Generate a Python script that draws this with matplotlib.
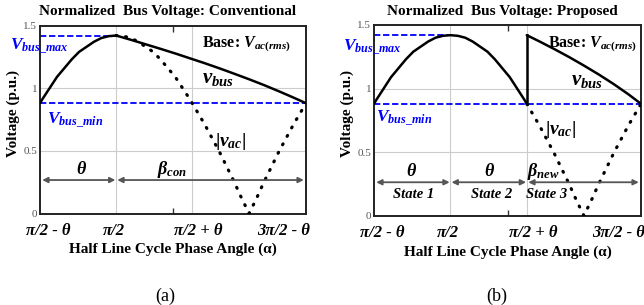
import matplotlib
matplotlib.use("Agg")
import matplotlib.pyplot as plt
import numpy as np

plt.rcParams['font.family'] = ['Liberation Serif', 'DejaVu Serif']
plt.rcParams['mathtext.fontset'] = 'custom'
plt.rcParams['mathtext.rm'] = 'Liberation Serif:bold'
plt.rcParams['mathtext.it'] = 'Liberation Serif:bold:italic'
plt.rcParams['mathtext.bf'] = 'Liberation Serif:bold'

# ---- data (phase angle in degrees, theta ~ 51.5 deg) ----
x_start, x_half, x_theta, x_pi, x_end = 38.5, 90.0, 141.5, 180.0, 218.5
x_midtick = 128.5
vbus_max = 1.42
vbus_min = 0.88

# |v_ac|
vac_angle = [38.5, 40, 45, 50, 55, 60, 65, 70, 75, 80, 85, 90, 95, 100, 105, 110, 115, 120, 125,
             130, 135, 140, 141.5, 145, 150, 155, 160, 165, 170, 175, 180, 185, 190, 195, 200,
             205, 210, 215, 218.5]
vac_value = [0.88, 0.91, 1.00, 1.09, 1.16, 1.23, 1.29, 1.33, 1.37, 1.40, 1.415, 1.42, 1.415, 1.40,
             1.37, 1.33, 1.29, 1.23, 1.16, 1.09, 1.00, 0.91, 0.88, 0.81, 0.71, 0.60, 0.49, 0.37,
             0.25, 0.12, 0.0, 0.12, 0.25, 0.37, 0.49, 0.60, 0.71, 0.81, 0.88]

# conventional bus voltage: discharge after pi/2
conv_dis_angle = [90, 100, 110, 120, 130, 140, 150, 160, 170, 180, 190, 200, 210, 218.5]
conv_dis_value = [1.42, 1.386, 1.35, 1.314, 1.277, 1.238, 1.199, 1.158, 1.115, 1.071, 1.025, 0.976, 0.925, 0.88]

# proposed bus voltage: discharge after pi/2 + theta
prop_dis_angle = [141.5, 150, 160, 170, 180, 190, 200, 210, 218.5]
prop_dis_value = [1.42, 1.371, 1.311, 1.248, 1.181, 1.111, 1.036, 0.955, 0.88]

xtick_pos = [x_start, x_half, x_theta, x_end]
xtick_labels = ['π/2 - θ', 'π/2', 'π/2 + θ', '3π/2 - θ']
xtick_shift = [5.4, -1.4, 4.1, -15.0]
yticks = [0, 0.5, 1, 1.5]
ytick_labels = ['0', '0.5', '1', '1.5']

W, H = 644, 305
fig = plt.figure(figsize=(W / 100, H / 100), dpi=100)

def px_axes(l, t, r, b):
    return fig.add_axes([l / W, 1 - b / H, (r - l) / W, (b - t) / H])

axA = px_axes(40, 25.5, 306, 213.5)
axB = px_axes(374, 25, 641, 215.7)

va = np.array(vac_angle)
vv = np.array(vac_value)
dot_ls = (0, (0.3, 2.7))

def base_axes(ax):
    ax.set_xlim(x_start, x_end)
    ax.set_ylim(0, 1.5)
    ax.set_yticks(yticks)
    ax.set_yticklabels(ytick_labels, color='#555555', fontsize=8)
    ax.tick_params(axis='y', length=0, pad=2)
    ax.set_xticks([x_midtick])
    ax.set_xticklabels([''])
    ax.tick_params(axis='x', direction='in', length=4, top=True, bottom=True, width=1, color='#333333')
    for s in ax.spines.values():
        s.set_linewidth(1.4)
        s.set_color('#222222')
    ax.axhline(1.0, color='#cccccc', lw=0.8, zorder=0)
    ax.axhline(0.5, color='#cccccc', lw=0.8, zorder=0)
    ax.axvline(x_half, color='#cccccc', lw=0.8, zorder=0)
    ax.axvline(x_theta, color='#cccccc', lw=0.8, zorder=0)
    for p, lab, sh in zip(xtick_pos, xtick_labels, xtick_shift):
        ax.text(p + sh, -0.14, lab, ha='center', va='center', fontsize=12,
                fontweight='bold', fontstyle='italic', clip_on=False)
    ax.text(0.5, -0.19, 'Half Line Cycle Phase Angle (α)', transform=ax.transAxes,
            ha='center', va='center', fontsize=11, fontweight='bold')
    ax.axhline(vbus_max, color='#0000ff', lw=1.3, ls=(0, (3.5, 1.5)), zorder=2,
               xmin=0, xmax=(x_half - x_start) / (x_end - x_start))
    ax.axhline(vbus_min, color='#0000ff', lw=1.3, ls=(0, (3.5, 1.5)), zorder=2)

def arrow(ax, x0, x1, y):
    ax.annotate('', xy=(x1, y), xytext=(x0, y),
                arrowprops=dict(arrowstyle='<|-|>', color='#555555', lw=1.3,
                                mutation_scale=8, shrinkA=0, shrinkB=0))

# ---- panel (a) ----
base_axes(axA)
m = va >= x_half
axA.plot(va[m], vv[m], color='black', lw=2.3, ls=dot_ls, dash_capstyle='round', zorder=3)
m = va <= x_half
axA.plot(va[m], vv[m], color='black', lw=1.8, zorder=4, solid_capstyle='round')
axA.plot(conv_dis_angle, conv_dis_value, color='black', lw=1.8, zorder=4, solid_capstyle='round')
axA.text(18.2, 1.305, r'$V_{bus\_max}$', color='#0000ff', fontsize=12.5, ha='left', va='baseline', clip_on=False)
axA.text(43.2, 0.714, r'$V_{bus\_min}$', color='#0000ff', fontsize=12.5, ha='left', va='baseline')
axA.text(148.1, 1.329, r'Base: $V_{ac(rms)}$', fontsize=11.5, fontweight='bold', ha='left', va='baseline')
axA.text(148.1, 1.04, r'$v_{bus}$', fontsize=15, ha='left', va='baseline')
axA.text(156.9, 0.54, r'$|v_{ac}|$', fontsize=14, ha='left', va='baseline')
arrow(axA, x_start + 1.5, x_half - 0.5, 0.267)
arrow(axA, x_half + 0.8, x_end - 1.5, 0.267)
axA.text(66, 0.355, 'θ', fontsize=13, fontweight='bold', fontstyle='italic', ha='center', va='center')
axA.text(127.8, 0.355, r'$\beta_{con}$', fontsize=13, ha='center', va='center')
fig.text(13 / W, 1 - 113 / H, 'Voltage (p.u.)', rotation=90, ha='center', va='center',
         fontsize=11, fontweight='bold')
fig.text(168 / W, 1 - 11 / H, 'Normalized  Bus Voltage: Conventional', ha='center', va='center',
         fontsize=11, fontweight='bold')
fig.text(165 / W, 1 - 296 / H, '(a)', ha='center', va='center', fontsize=13)

# ---- panel (b) ----
base_axes(axB)
m = va >= x_theta
axB.plot(va[m], vv[m], color='black', lw=2.3, ls=dot_ls, dash_capstyle='round', zorder=3)
m = va <= x_theta
axB.plot(va[m], vv[m], color='black', lw=1.8, zorder=4, solid_capstyle='round')
axB.plot([x_theta, x_theta], [vbus_min, vbus_max], color='black', lw=1.8, zorder=4)
axB.plot(prop_dis_angle, prop_dis_value, color='black', lw=1.8, zorder=4, solid_capstyle='round')
axB.text(17.6, 1.30, r'$V_{bus\_max}$', color='#0000ff', fontsize=12.5, ha='left', va='baseline', clip_on=False)
axB.text(39.8, 0.737, r'$V_{bus\_min}$', color='#0000ff', fontsize=12.5, ha='left', va='baseline')
axB.text(155.8, 1.327, r'Base: $V_{ac(rms)}$', fontsize=11.5, fontweight='bold', ha='left', va='baseline')
axB.text(171.0, 1.028, r'$v_{bus}$', fontsize=15, ha='left', va='baseline')
axB.text(153.8, 0.643, r'$|v_{ac}|$', fontsize=14, ha='left', va='baseline')
arrow(axB, x_start + 1.5, x_half - 0.5, 0.263)
arrow(axB, x_half + 0.8, x_theta - 0.5, 0.263)
arrow(axB, x_theta + 1.0, x_end - 1.5, 0.263)
axB.text(63.4, 0.344, 'θ', fontsize=13, fontweight='bold', fontstyle='italic', ha='center', va='center')
axB.text(116, 0.344, 'θ', fontsize=13, fontweight='bold', fontstyle='italic', ha='center', va='center')
axB.text(152.4, 0.35, r'$\beta_{new}$', fontsize=13, ha='center', va='center')
for xs, lab in zip([65.5, 118, 155], ['State 1', 'State 2', 'State 3']):
    axB.text(xs, 0.163, lab, fontsize=10.5, fontweight='bold', fontstyle='italic', ha='center', va='center')
fig.text(347 / W, 1 - 113 / H, 'Voltage (p.u.)', rotation=90, ha='center', va='center',
         fontsize=11, fontweight='bold')
fig.text(502 / W, 1 - 11 / H, 'Normalized  Bus Voltage: Proposed', ha='center', va='center',
         fontsize=11, fontweight='bold')
fig.text(497 / W, 1 - 296 / H, '(b)', ha='center', va='center', fontsize=13)

fig.savefig('out.png', dpi=100)
